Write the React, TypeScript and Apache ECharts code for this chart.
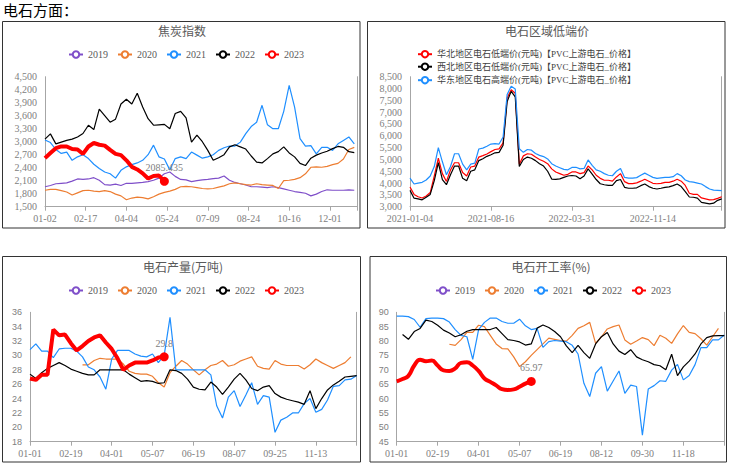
import React, { useEffect, useRef } from 'react';
import * as echarts from 'echarts';

// ---------------- Panel 1: 焦炭指数 (one reading every 4 trading days) ----------------
const cokeTickLabels = ['01-02', '02-17', '04-04', '05-24', '07-09', '08-24', '10-16', '12-01'];
const coke2019 = [1960, 1990, 2030, 2040, 2050, 2090, 2140, 2130, 2140, 2170, 2110, 2010, 2000, 2020, 1990, 2040, 2040, 2050, 2060, 2080, 2110, 2160, 2260, 2300, 2200, 2130, 2120, 2080, 2100, 2120, 2130, 2150, 2160, 2210, 2110, 2060, 2030, 2000, 1960, 1960, 1950, 1940, 1960, 1940, 1910, 1880, 1850, 1830, 1810, 1750, 1790, 1850, 1890, 1880, 1880, 1880, 1890, 1880];
const coke2020 = [1880, 1900, 1900, 1870, 1840, 1770, 1820, 1870, 1880, 1860, 1850, 1870, 1850, 1790, 1750, 1660, 1700, 1720, 1710, 1680, 1730, 1790, 1830, 1860, 1900, 1960, 1970, 1960, 1940, 1920, 1910, 1920, 1950, 1980, 2030, 2050, 2030, 2010, 2000, 2030, 2010, 2000, 1990, 1920, 2100, 2110, 2130, 2170, 2260, 2410, 2420, 2410, 2430, 2470, 2500, 2600, 2820, 2870];
const coke2021 = [3040, 2980, 2820, 2730, 2760, 2570, 2650, 2700, 2610, 2480, 2380, 2300, 2260, 2160, 2340, 2420, 2470, 2510, 2570, 2700, 2920, 2650, 2600, 2350, 2610, 2650, 2610, 2760, 2690, 2620, 2650, 2700, 2800, 2860, 2900, 2900, 2990, 3185, 3350, 3450, 3840, 3390, 3300, 3300, 3700, 4300, 3800, 3070, 2900, 2910, 2720, 2870, 2870, 2800, 2950, 3030, 3110, 2950];
const coke2022 = [3060, 3180, 2950, 2990, 3030, 3060, 3110, 3190, 3380, 3280, 3750, 3600, 3450, 3520, 3870, 3980, 3870, 4120, 3800, 3530, 3380, 3390, 3400, 3300, 3650, 3700, 3550, 2990, 3150, 3000, 2800, 2570, 2630, 2700, 2880, 2930, 2880, 2830, 2670, 2530, 2510, 2610, 2720, 2770, 2880, 2740, 2650, 2500, 2450, 2620, 2690, 2740, 2780, 2840, 2890, 2870, 2770, 2750];
const coke2023 = [2620, 2740, 2850, 2890, 2890, 2830, 2820, 2720, 2890, 2970, 2930, 2910, 2810, 2720, 2690, 2570, 2420, 2360, 2270, 2150, 2210, 2220, 2085.435];

// ---------------- Panel 2: 电石区域低端价 ----------------
const priceTickLabels = ['2021-01-04', '2021-08-16', '2022-03-31', '2022-11-14'];
const priceNames = [
  '华北地区电石低端价(元吨)【PVC上游电石_价格】',
  '西北地区电石低端价(元吨)【PVC上游电石_价格】',
  '华东地区电石高端价(元吨)【PVC上游电石_价格】',
];
const priceNorth = [3830, 3520, 3420, 3370, 3450, 3600, 4300, 5050, 4400, 4070, 4550, 4860, 4860, 4450, 4300, 4680, 4720, 5100, 5160, 5230, 5330, 5420, 5450, 5700, 7600, 7950, 7800, 4800, 5150, 5240, 5220, 5100, 5000, 4920, 4820, 4600, 4470, 4400, 4330, 4370, 4470, 4470, 4400, 4440, 4720, 4560, 4330, 4200, 4120, 4120, 4080, 4260, 4400, 4060, 3975, 3975, 4010, 4080, 4160, 4080, 3990, 3970, 3990, 4030, 4030, 4080, 4160, 4080, 3900, 3570, 3520, 3520, 3370, 3330, 3290, 3300, 3350, 3420];
const priceNorthwest = [3690, 3360, 3330, 3290, 3400, 3520, 4100, 4860, 4150, 3930, 4350, 4720, 4720, 4200, 4100, 4500, 4560, 4950, 5030, 5130, 5200, 5280, 5300, 5600, 7450, 7880, 7650, 4700, 5000, 5100, 5050, 4950, 4820, 4720, 4500, 4170, 4160, 4180, 4240, 4300, 4320, 4300, 4180, 4300, 4600, 4380, 4150, 3970, 3930, 3900, 3900, 4100, 4150, 3820, 3780, 3780, 3800, 3890, 3960, 3850, 3780, 3750, 3780, 3820, 3840, 3890, 3960, 3850, 3640, 3410, 3400, 3360, 3180, 3150, 3120, 3150, 3270, 3330];
const priceEast = [4210, 3960, 4000, 4030, 4130, 4300, 4700, 5500, 4900, 4350, 4700, 5240, 5240, 4800, 4560, 4800, 4840, 5440, 5480, 5560, 5650, 5670, 5650, 5950, 7750, 8100, 7980, 5450, 5300, 5420, 5390, 5250, 5170, 5120, 5020, 4820, 4720, 4650, 4580, 4560, 4660, 4670, 4600, 4620, 4980, 4750, 4560, 4500, 4400, 4330, 4310, 4500, 4620, 4240, 4210, 4210, 4230, 4330, 4420, 4330, 4240, 4200, 4220, 4240, 4240, 4270, 4400, 4310, 4130, 4060, 4040, 4000, 3960, 3850, 3750, 3700, 3690, 3680];

// ---------------- Panel 3: 电石产量(万吨), weekly ----------------
const outputTickLabels = ['01-01', '02-19', '04-01', '05-07', '06-19', '08-07', '09-25', '11-13'];
const output2019: (number | null)[] = [];
const output2020: (number | null)[] = [null, null, null, null, null, null, null, null, null, 28.7, 28.7, 29.3, 29.6, 29.5, 29.5, 29.5, 28.8, 27.8, 27.5, 27.4, 27.4, 27.1, 26.2, 25.6, 27.6, 28.5, 29.3, 28.8, 28.0, 27.3, 28.0, 28.6, 28.8, 29.3, 28.5, 28.7, 29.2, 29.5, 29.8, 28.5, 28.2, 28.1, 29.3, 28.8, 28.6, 28.6, 28.6, 28.1, 28.7, 29.5, 29.0, 28.6, 28.2, 28.6, 29.0, 29.8];
const output2021 = [30.8, 31.6, 30.6, 30.6, 29.7, 30.9, 31.0, 31.0, 30.6, 29.8, 28.4, 28.0, 27.0, 25.3, 29.5, 30.7, 30.7, 30.7, 30.2, 29.9, 29.8, 30.2, 29.0, 30.0, 35.3, 28.0, 28.0, 28.0, 28.0, 28.0, 28.0, 27.3, 23.0, 21.3, 24.2, 25.1, 22.9, 24.5, 26.2, 23.2, 24.4, 24.2, 19.3, 21.0, 21.4, 22.0, 22.0, 23.3, 24.0, 22.1, 22.5, 23.8, 25.7, 25.8, 26.6, 26.7, 27.2];
const output2022 = [27.4, 26.8, 27.6, 28.2, 28.6, 29.0, 28.6, 28.1, 27.8, 27.5, 27.3, 27.3, 28.0, 28.0, 28.0, 28.0, 28.0, 27.4, 26.9, 26.4, 26.5, 26.4, 26.1, 26.2, 28.0, 27.9, 27.5, 26.7, 25.6, 25.3, 25.2, 26.3, 25.6, 24.6, 25.6, 26.7, 27.5, 26.6, 25.4, 25.1, 25.6, 25.8, 24.7, 24.2, 23.9, 23.7, 23.5, 23.2, 25.1, 22.6, 24.0, 25.2, 25.9, 26.4, 27.0, 27.1, 27.2];
const output2023 = [26.8, 26.6, 27.3, 27.3, 33.6, 32.8, 32.9, 31.7, 30.7, 31.3, 32.0, 32.5, 32.8, 31.8, 30.9, 29.6, 28.0, 28.6, 29.0, 29.0, 29.0, 29.3, 29.7, 29.8];

// ---------------- Panel 4: 电石开工率(%), weekly ----------------
const rateTickLabels = ['01-01', '02-19', '04-01', '05-07', '06-19', '08-12', '09-30', '11-18'];
const rate2019: (number | null)[] = [];
const rate2020: (number | null)[] = [null, null, null, null, null, null, null, null, null, 78.9, 78.5, 80.5, 83.0, 83.0, 85.5, 85.0, 82.0, 79.0, 77.4, 77.3, 74.5, 71.1, 72.8, 75.0, 77.0, 79.0, 81.0, 80.6, 80.2, 80.0, 82.0, 84.4, 85.3, 86.5, 79.2, 81.5, 84.2, 85.0, 85.6, 80.4, 78.9, 80.0, 81.2, 80.5, 78.4, 82.0, 81.0, 79.2, 82.5, 85.4, 83.0, 82.6, 80.8, 78.6, 81.5, 84.4];
const rate2021 = [88.7, 88.7, 88.5, 87.5, 84.8, 87.8, 88.0, 88.0, 87.8, 86.6, 84.0, 82.0, 81.5, 73.6, 84.0, 86.5, 88.0, 88.0, 86.8, 86.2, 86.2, 87.6, 85.3, 84.0, 84.4, 77.8, 79.8, 80.2, 80.0, 79.8, 78.5, 75.5, 65.3, 60.7, 68.8, 71.1, 62.6, 66.1, 69.6, 61.8, 64.7, 64.2, 47.3, 63.3, 64.5, 66.2, 66.0, 69.9, 71.9, 66.5, 68.0, 71.8, 77.7, 77.7, 80.4, 80.4, 82.1];
const rate2022: (number | null)[] = [null, 82.3, 80.6, 83.3, 84.4, 87.3, 86.8, 85.5, 83.8, 82.8, 81.5, 82.2, 83.4, 84.0, 84.0, 84.0, 84.0, 84.7, 82.6, 80.5, 80.2, 79.7, 78.6, 79.0, 84.5, 85.6, 84.7, 83.3, 81.5, 78.3, 76.0, 78.5, 76.0, 74.0, 79.0, 81.5, 83.0, 79.0, 76.5, 75.3, 77.0, 74.5, 73.5, 72.8, 71.8, 71.4, 70.0, 75.4, 68.0, 71.0, 73.0, 75.5, 79.0, 81.2, 81.8, 81.9, 81.9];
const rate2023 = [66.0, 66.8, 67.9, 71.5, 73.5, 73.0, 73.2, 71.5, 69.8, 69.6, 70.5, 72.4, 72.6, 71.5, 69.6, 67.0, 65.8, 64.6, 63.3, 63.0, 63.2, 64.1, 65.2, 65.97];

const years = ['2019', '2020', '2021', '2022', '2023'];
const yearColors = ['#7F4FC9', '#ED7D31', '#1F8FFF', '#000000', '#FF0000'];
const priceColors = ['#FF0000', '#000000', '#1F8FFF'];

const AXIS_GRAY = '#a6a6a6';
const LABEL_GRAY = '#808080';
const SERIF = "'Liberation Serif', 'Noto Sans CJK SC', serif";
const SANS = "'Liberation Sans', 'Noto Sans CJK SC', sans-serif";
const CJK = "'Noto Sans CJK SC', sans-serif";

function tickFormatter(labels: string[], interval: number) {
  return (v: number) => {
    const i = v / interval;
    const r = Math.round(i);
    return Math.abs(i - r) < 1e-6 && labels[r] ? labels[r] : '';
  };
}

function xAxisCfg(gridIndex: number, max: number, interval: number, labels: string[]) {
  return {
    type: 'value', gridIndex, min: 0, max, interval,
    axisLine: { show: true, onZero: false, lineStyle: { color: AXIS_GRAY, width: 1 } },
    axisTick: { show: true, length: 4, lineStyle: { color: AXIS_GRAY } },
    splitLine: { show: false },
    axisLabel: { formatter: tickFormatter(labels, interval), color: LABEL_GRAY, fontSize: 10, fontFamily: SERIF, margin: 7, hideOverlap: false },
  };
}

function yAxisCfg(gridIndex: number, min: number, max: number, interval: number, font: string, size: number) {
  return {
    type: 'value', gridIndex, min, max, interval,
    axisLine: { show: true, onZero: false, lineStyle: { color: AXIS_GRAY, width: 1 } },
    axisTick: { show: false },
    splitLine: { show: false },
    axisLabel: { formatter: (v: number) => v.toLocaleString('en-US'), color: LABEL_GRAY, fontSize: size, fontFamily: font, margin: 8 },
  };
}

function rightAxisCfg(gridIndex: number) {
  return {
    type: 'value', gridIndex, position: 'right', min: 0, max: 1,
    axisLine: { show: true, onZero: false, lineStyle: { color: AXIS_GRAY, width: 1 } },
    axisTick: { show: false }, axisLabel: { show: false }, splitLine: { show: false },
  };
}

function yearSeries(grid: number, step: number, lists: (number | null)[][], smoothRed: boolean) {
  return lists.map((vals, k) => {
    const isRed = k === 4;
    const pts = vals.map((v, i) => [i * step, v]).filter((p) => p[1] !== null && p[1] !== undefined);
    const s: any = {
      type: 'line', name: years[k], xAxisIndex: grid, yAxisIndex: grid * 2, data: pts,
      showSymbol: false, symbol: 'emptyCircle', symbolSize: 6,
      lineStyle: { color: yearColors[k], width: isRed ? 4 : 1.2 },
      itemStyle: { color: yearColors[k] },
      smooth: isRed && smoothRed, z: isRed ? 5 : 2,
    };
    if (isRed && pts.length) {
      const last = pts[pts.length - 1];
      s.markPoint = {
        symbol: 'circle', symbolSize: 9, itemStyle: { color: yearColors[4] },
        label: { show: true, position: 'top', distance: 4, color: LABEL_GRAY, fontSize: 10, fontFamily: SERIF, formatter: '{c}' },
        data: [{ coord: last, value: last[1] }],
      };
    }
    return s;
  });
}

function priceSeries() {
  const lists = [priceNorth, priceNorthwest, priceEast];
  return lists.map((vals, k) => ({
    type: 'line', name: priceNames[k], xAxisIndex: 1, yAxisIndex: 2,
    data: vals.map((v, i) => [i, v]),
    showSymbol: false, symbol: 'emptyCircle', symbolSize: 6,
    lineStyle: { color: priceColors[k], width: 1.2 }, itemStyle: { color: priceColors[k] },
  }));
}

const legendBase = {
  itemWidth: 14, itemHeight: 8, itemGap: 9, selectedMode: false,
  textStyle: { color: '#595959', fontSize: 10, fontFamily: SERIF },
};

function titleText(text: string, x: number, y: number) {
  return { type: 'text', x, y, style: { text, fill: '#595959', fontSize: 12, fontFamily: CJK, align: 'center', verticalAlign: 'middle' } };
}

function panelRect(x: number, y: number, w: number, h: number) {
  return { type: 'rect', shape: { x, y, width: w, height: h }, style: { fill: 'none', stroke: '#333333', lineWidth: 1 }, silent: true };
}

export default function App() {
  const ref = useRef<HTMLDivElement>(null);
  useEffect(() => {
    const chart = echarts.init(ref.current as HTMLDivElement, null, { renderer: 'svg', width: 733, height: 472 });
    const option: any = {
      animation: false,
      backgroundColor: '#ffffff',
      grid: [
        { left: 45, top: 76.7, width: 312, height: 130 },
        { left: 410, top: 76.7, width: 311.7, height: 130 },
        { left: 30, top: 312.3, width: 326.7, height: 129.4 },
        { left: 396.7, top: 312.3, width: 327.6, height: 129.4 },
      ],
      xAxis: [
        xAxisCfg(0, 230, 30, cokeTickLabels),
        xAxisCfg(1, 77, 20, priceTickLabels),
        xAxisCfg(2, 56, 7, outputTickLabels),
        xAxisCfg(3, 56, 7, rateTickLabels),
      ],
      yAxis: [
        yAxisCfg(0, 1500, 4500, 300, SERIF, 10), rightAxisCfg(0),
        yAxisCfg(1, 3000, 8500, 500, SERIF, 10), rightAxisCfg(1),
        yAxisCfg(2, 18, 36, 2, SANS, 9), rightAxisCfg(2),
        yAxisCfg(3, 45, 90, 5, SANS, 9), rightAxisCfg(3),
      ],
      legend: [
        { ...legendBase, data: years, left: 63, top: 44.5 },
        { ...legendBase, data: [priceNames[0]], left: 412, top: 44.7, textStyle: { color: '#404040', fontSize: 9, fontFamily: SERIF } },
        { ...legendBase, data: [priceNames[1]], left: 412, top: 57.2, textStyle: { color: '#404040', fontSize: 9, fontFamily: SERIF } },
        { ...legendBase, data: [priceNames[2]], left: 412, top: 70.7, textStyle: { color: '#404040', fontSize: 9, fontFamily: SERIF } },
        { ...legendBase, data: years, left: 63, top: 280.5 },
        { ...legendBase, data: years, left: 430, top: 280.5 },
      ],
      graphic: [
        { type: 'text', x: 3, y: 2, style: { text: '电石方面：', fill: '#000000', fontSize: 15, fontFamily: CJK } },
        panelRect(2.5, 21.5, 357.5, 206.5),
        panelRect(367.5, 21.5, 357.5, 206.5),
        panelRect(2.5, 256.5, 358, 205.5),
        panelRect(370, 256.5, 356.5, 205.5),
        titleText('焦炭指数', 182, 30.7),
        titleText('电石区域低端价', 547, 30.7),
        titleText('电石产量(万吨)', 183, 266),
        titleText('电石开工率(%)', 551, 266),
      ],
      series: [
        ...yearSeries(0, 4, [coke2019, coke2020, coke2021, coke2022, coke2023], false),
        ...priceSeries(),
        ...yearSeries(2, 1, [output2019, output2020, output2021, output2022, output2023], false),
        ...yearSeries(3, 1, [rate2019, rate2020, rate2021, rate2022, rate2023], true),
      ],
    };
    chart.setOption(option);
    return () => chart.dispose();
  }, []);
  return <div ref={ref} style={{ position: 'fixed', left: 0, top: 0, width: 733, height: 472, background: '#fff' }} />;
}
